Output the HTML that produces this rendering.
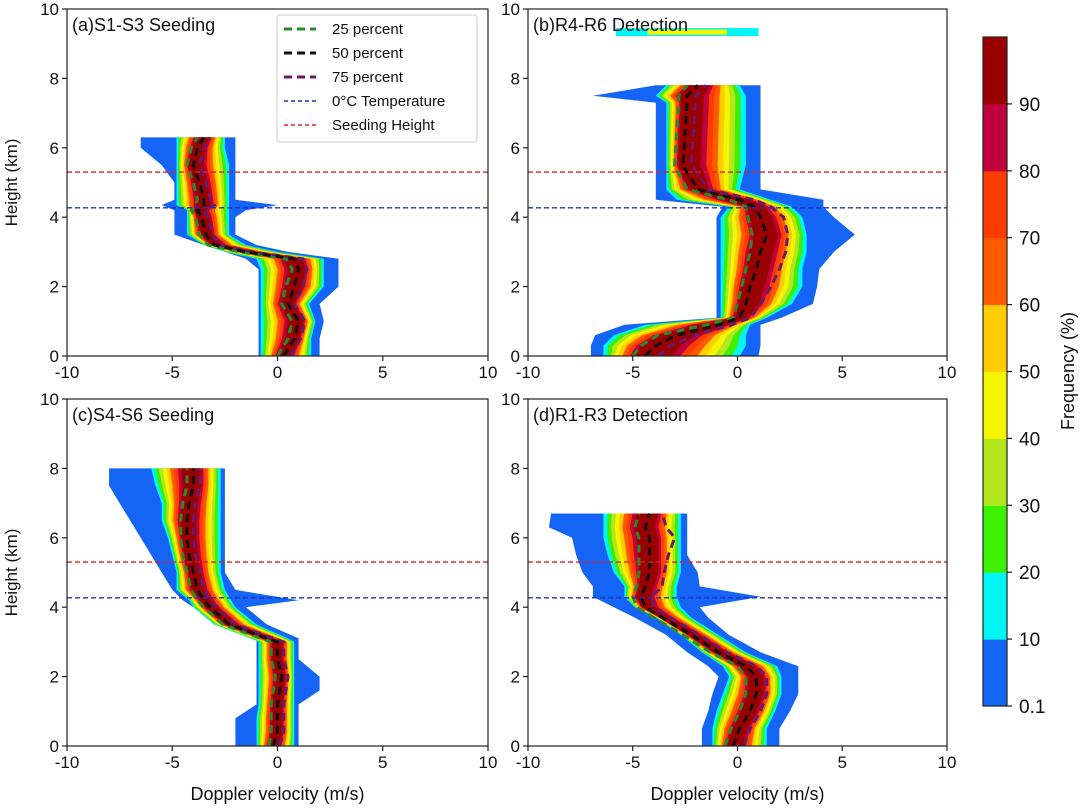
<!DOCTYPE html>
<html><head><meta charset="utf-8">
<style>
html,body{margin:0;padding:0;background:#fff;}
svg text{font-family:"Liberation Sans","DejaVu Sans",sans-serif;fill:#111;}
</style></head>
<body>
<svg id="fig" width="1080" height="805" viewBox="0 0 1080 805" xmlns="http://www.w3.org/2000/svg">
<g id="plots"></g>
<g id="frames"></g>
</svg>
<script>
// ---------- shared data ----------
const levelColors = ["#1464f5","#00f5f5","#3cf000","#b4e61e","#f5f500","#ffcc00","#ff5a00","#ff3c00","#c0003c","#9b0000"];
const cbTicks = ["0.1","10","20","30","40","50","60","70","80","90"];
const xTicks = [-10,-5,0,5,10];
const yTicks = [0,2,4,6,8,10];
const zeroTempHeight = 4.27;
const seedingHeight = 5.3;

// ---------- panel (a) ----------
const aH   = [0,0.5,1.0,1.5,2.0,2.5,2.8,3.0,3.2,3.5,4.0,4.2,4.35,4.5,5.0,5.5,6.0,6.3];
const aBL  = [-0.9,-0.9,-0.9,-0.9,-0.9,-0.9,-1.5,-2.5,-3.5,-4.9,-4.9,-4.9,-5.5,-4.9,-4.9,-5.5,-6.5,-6.5];
const aBR  = [2.0,2.0,2.2,2.0,2.9,2.9,2.9,0.5,-1.0,-2.0,-2.0,-1.5,0,-2.0,-2.0,-2.0,-2.0,-2.0];
const aCL  = [-0.8,-0.8,-0.8,-0.8,-0.8,-0.8,-1.0,-2.5,-3.5,-4.3,-4.3,-4.3,-4.8,-4.8,-4.8,-4.8,-4.8,-4.8];
const aCR  = [1.6,1.6,1.8,1.5,2.2,2.2,2.2,0,-1.5,-2.3,-2.3,-2.3,-2.3,-2.3,-2.3,-2.3,-2.5,-2.5];
const aP50 = [0.3,0.8,1.0,0.5,0.8,1.0,0.8,-1.5,-3.0,-3.4,-3.6,-3.8,-3.5,-3.5,-3.7,-4.0,-3.8,-3.5];
const aP25 = [0.0,0.5,0.7,0.2,0.4,0.7,0.4,-1.8,-3.3,-3.7,-3.9,-4.1,-3.9,-3.8,-4.0,-4.3,-4.1,-3.8];
const aP75 = [0.6,1.1,1.3,0.8,1.2,1.4,1.2,-1.2,-2.7,-3.1,-3.3,-3.5,-3.0,-3.2,-3.4,-3.7,-3.5,-3.2];

// ---------- panel (b) ----------
const bH   = [0,0.3,0.6,0.9,1.1,1.5,2.0,2.5,3.0,3.5,4.0,4.3,4.5,4.8,5.5,6.5,7.3,7.5,7.8];
const bBL  = [-7,-7,-6.8,-5.4,-1.0,-1.0,-1.0,-1.0,-1.0,-1.0,-1.0,-0.7,-3.9,-3.9,-3.9,-3.9,-3.9,-6.9,-3.9];
const bBR  = [1.0,1.1,1.1,1.1,2.1,3.6,3.8,3.9,4.6,5.6,4.6,4.1,4.1,1.1,1.1,1.1,1.1,1.1,1.1];
const bCL  = [-6.4,-6.4,-5.9,-4.4,-0.8,-0.8,-0.8,-0.8,-0.8,-0.8,-0.8,-0.4,-2.9,-3.4,-3.4,-3.4,-3.4,-3.9,-3.4];
const bCR  = [0.1,0.4,0.4,0.6,1.4,2.6,3.1,3.1,3.3,3.3,3.1,2.6,1.6,0.1,0.4,0.4,0.4,0.4,0.1];
const bP50 = [-4.4,-3.9,-2.9,-0.9,0.1,0.4,0.6,0.9,1.1,1.4,1.1,0.8,0.1,-1.9,-2.6,-2.5,-2.4,-2.4,-1.9];
const bP25 = [-5.0,-4.6,-3.8,-1.5,-0.2,0.0,0.2,0.4,0.6,0.7,0.5,0.4,-0.4,-2.4,-3.0,-2.9,-2.8,-2.8,-2.4];
const bP75 = [-3.8,-3.2,-2.0,-0.3,0.6,1.1,1.6,2.0,2.3,2.4,2.2,1.6,0.8,-1.4,-2.2,-2.1,-2.0,-2.0,-1.5];
const bStreak = [-5.8, 1.0, 9.22, 9.45];

// ---------- panel (c) ----------
const cH   = [0,0.4,0.8,1.2,1.6,2.0,2.5,3.0,3.1,3.5,4.0,4.2,4.5,5.0,5.5,6.0,6.5,7.0,7.5,8.0];
const cBL  = [-2,-2,-2,-1,-1,-1,-1,-1,-1,-3,-4,-4.5,-5,-5.5,-6,-6.5,-7,-7.5,-8,-8];
const cBR  = [1,1,1,1,2,2,1,1,1,-0.5,-1.5,1,-2,-2.5,-2.5,-2.5,-2.5,-2.5,-2.5,-2.5];
const cCL  = [-1,-1,-1,-0.9,-0.9,-0.9,-0.9,-0.9,-1.3,-3,-4,-4.2,-4.8,-4.8,-5,-5.2,-5.5,-5.5,-5.8,-6];
const cCR  = [0.8,0.8,0.8,0.8,0.8,0.8,0.8,0.8,0.5,-1,-2,-2.2,-2.5,-2.7,-2.7,-2.7,-2.7,-2.7,-2.7,-2.7];
const cP50 = [-0.2,0,0,0,0.1,0.2,0,0,-0.5,-2.3,-3.2,-3.5,-3.8,-4,-4.2,-4.3,-4.3,-4.2,-4,-4];
const cP25 = [-0.4,-0.3,-0.3,-0.3,-0.2,-0.1,-0.3,-0.3,-0.8,-2.6,-3.5,-3.8,-4.1,-4.3,-4.5,-4.6,-4.6,-4.5,-4.3,-4.3];
const cP75 = [0.1,0.3,0.3,0.3,0.4,0.5,0.3,0.3,-0.2,-2.0,-2.9,-3.2,-3.5,-3.7,-3.9,-4.0,-4.0,-3.9,-3.7,-3.7];

// ---------- panel (d) ----------
const dH   = [0,0.5,1.0,1.5,2.0,2.3,2.7,3.2,3.7,4.0,4.3,4.6,5.0,5.5,6.0,6.3,6.7];
const dBL  = [-1.7,-1.7,-1.4,-1.2,-0.9,-1.4,-2.4,-3.4,-4.9,-5.9,-6.9,-6.9,-7.4,-7.7,-7.9,-9.0,-8.9];
const dBR  = [2.0,2.0,2.5,2.9,2.9,2.9,1.1,-0.4,-1.4,-1.8,1.1,-1.8,-1.9,-2.4,-2.4,-2.4,-2.4];
const dCL  = [-1.2,-1.2,-1.0,-0.7,-0.4,-0.7,-1.7,-2.7,-3.9,-4.9,-5.4,-5.4,-5.9,-6.2,-6.4,-6.4,-6.4];
const dCR  = [1.4,1.4,1.8,2.1,2.1,1.9,0.4,-0.9,-2.2,-2.7,-2.9,-2.9,-2.7,-2.7,-2.7,-2.7,-2.7];
const dP50 = [-0.2,0.1,0.6,0.9,0.9,0.4,-0.9,-2.2,-3.6,-4.4,-4.6,-4.4,-4.2,-4.2,-4.2,-4.4,-4.2];
const dP25 = [-0.6,-0.3,0.1,0.4,0.4,0.0,-1.3,-2.6,-4.0,-4.8,-5.0,-4.8,-4.7,-4.7,-4.7,-4.9,-4.7];
const dP75 = [0.3,0.6,1.1,1.4,1.4,0.9,-0.5,-1.8,-3.2,-4.0,-4.1,-3.6,-3.5,-3.3,-3.0,-3.4,-3.6];

const NS="http://www.w3.org/2000/svg";
const plots=document.getElementById('plots');
const frames=document.getElementById('frames');
function mk(tag,attrs,parent){const e=document.createElementNS(NS,tag);for(const k in attrs)e.setAttribute(k,attrs[k]);(parent||plots).appendChild(e);return e;}

const panels=[
 {id:'a',title:'(a)S1-S3 Seeding',x0:67,x1:488,y0:356,y1:9,H:aH,BL:aBL,BR:aBR,CL:aCL,CR:aCR,P25:aP25,P50:aP50,P75:aP75,ylab:true,xlab:false},
 {id:'b',title:'(b)R4-R6 Detection',x0:528,x1:947,y0:356,y1:9,H:bH,BL:bBL,BR:bBR,CL:bCL,CR:bCR,P25:bP25,P50:bP50,P75:bP75,ylab:false,xlab:false},
 {id:'c',title:'(c)S4-S6 Seeding',x0:67,x1:488,y0:746,y1:399,H:cH,BL:cBL,BR:cBR,CL:cCL,CR:cCR,P25:cP25,P50:cP50,P75:cP75,ylab:true,xlab:true},
 {id:'d',title:'(d)R1-R3 Detection',x0:528,x1:947,y0:746,y1:399,H:dH,BL:dBL,BR:dBR,CL:dCL,CR:dCR,P25:dP25,P50:dP50,P75:dP75,ylab:false,xlab:true}
];

panels.forEach(p=>{
  const sx=v=>p.x0+(v+10)/20*(p.x1-p.x0);
  const sy=h=>p.y0-h/10*(p.y0-p.y1);
  const g=mk('g',{});
  
  
  const clipId='clip'+p.id;
  const cp=mk('clipPath',{id:clipId},g);
  mk('rect',{x:p.x0,y:p.y1,width:p.x1-p.x0,height:p.y0-p.y1},cp);
  const dg=mk('g',{'clip-path':'url(#'+clipId+')'},g);
  for(let k=0;k<levelColors.length;k++){
    const f=1-(k-1)*0.09;
    const L=[],R=[];
    for(let i=0;i<p.H.length;i++){
      let l,r;
      if(k===0){l=p.BL[i];r=p.BR[i];}
      else{l=p.P50[i]-(p.P50[i]-p.CL[i])*f;r=p.P50[i]+(p.CR[i]-p.P50[i])*f;}
      L.push(sx(l).toFixed(1)+','+sy(p.H[i]).toFixed(1));
      R.push(sx(r).toFixed(1)+','+sy(p.H[i]).toFixed(1));
    }
    const poly=mk('polygon',{points:L.concat(R.reverse()).join(' '),fill:levelColors[k]},dg);
    
    
  }
  if(p.id==='b'){
    const s=mk('rect',{x:sx(bStreak[0]),y:sy(bStreak[3]),width:sx(bStreak[1])-sx(bStreak[0]),height:sy(bStreak[2])-sy(bStreak[3]),fill:levelColors[1]},dg);
    
    
    const s2=mk('rect',{x:sx(bStreak[0]+1.5),y:sy(bStreak[3]-0.04),width:sx(bStreak[1]-1.5)-sx(bStreak[0]+1.5),height:sy(bStreak[2]+0.04)-sy(bStreak[3]-0.04),fill:levelColors[4]},dg);
    
    
  }
  [[p.P25,'#2a8a2a','25'],[p.P75,'#6b1a6b','75'],[p.P50,'#111','50']].forEach(([arr,col,nm])=>{
    const pts=arr.map((v,i)=>sx(v).toFixed(1)+','+sy(p.H[i]).toFixed(1)).join(' ');
    const pl=mk('polyline',{points:pts,fill:'none',stroke:col,'stroke-width':3,'stroke-dasharray':'8,5'},dg);
    
    
  });
  const rl=mk('line',{x1:p.x0,x2:p.x1,y1:sy(seedingHeight),y2:sy(seedingHeight),stroke:'#e02020','stroke-width':1.4,'stroke-dasharray':'5,3'},g);
  
  
  const bl=mk('line',{x1:p.x0,x2:p.x1,y1:sy(zeroTempHeight),y2:sy(zeroTempHeight),stroke:'#2030c0','stroke-width':1.4,'stroke-dasharray':'5,3'},g);
  
  
  const fr=mk('rect',{x:p.x0,y:p.y1,width:p.x1-p.x0,height:p.y0-p.y1,fill:'none',stroke:'#222','stroke-width':1.2},g);
  
  
  xTicks.forEach(t=>{
    mk('line',{x1:sx(t),x2:sx(t),y1:p.y0,y2:p.y0+5,stroke:'#222','stroke-width':1.2},g);
    const tx=mk('text',{x:sx(t),y:p.y0+22,'text-anchor':'middle','font-size':17},g);
    tx.textContent=t;
    
    
  });
  yTicks.forEach(t=>{
    mk('line',{x1:p.x0-5,x2:p.x0,y1:sy(t),y2:sy(t),stroke:'#222','stroke-width':1.2},g);
    const ty=mk('text',{x:p.x0-8,y:sy(t)+6,'text-anchor':'end','font-size':17},g);
    ty.textContent=t;
    
    
  });
  const tt=mk('text',{x:p.x0+5,y:p.y1+22,'font-size':18},g);
  tt.textContent=p.title;
  
  
  if(p.ylab){
    const yl=mk('text',{x:0,y:0,'font-size':17,'text-anchor':'middle',transform:'translate(17,'+((p.y0+p.y1)/2)+') rotate(-90)'},g);
    yl.textContent='Height (km)';
    
    
  }
  if(p.xlab){
    const xl=mk('text',{x:(p.x0+p.x1)/2,y:800,'font-size':18,'text-anchor':'middle'},g);
    xl.textContent='Doppler velocity (m/s)';
    
    
  }
});

// legend
const lg=mk('g',{},frames);


mk('rect',{x:277,y:15,width:200,height:127,rx:3,fill:'#fff',stroke:'#ccc','stroke-width':1},lg);
const legItems=[['25 percent','#2a8a2a',3,'8,5'],['50 percent','#111',3,'8,5'],['75 percent','#6b1a6b',3,'8,5'],['0°C Temperature','#2030c0',1.4,'4,3'],['Seeding Height','#e02020',1.4,'4,3']];
legItems.forEach((it,i)=>{
  const y=29+i*24;
  const e=mk('g',{},lg);
  
  
  mk('line',{x1:284,x2:316,y1:y,y2:y,stroke:it[1],'stroke-width':it[2],'stroke-dasharray':it[3]},e);
  const t=mk('text',{x:332,y:y+5,'font-size':15},e);
  t.textContent=it[0];
});

// colorbar
const cb=mk('g',{},frames);


const cbTop=37,cbBot=706,cbX=983,cbW=24;
const step=(cbBot-cbTop)/levelColors.length;
levelColors.forEach((c,i)=>{
  const r=mk('rect',{x:cbX,y:cbBot-(i+1)*step,width:cbW,height:step+0.5,fill:c},cb);
  
  
});
mk('rect',{x:cbX,y:cbTop,width:cbW,height:cbBot-cbTop,fill:'none',stroke:'#222','stroke-width':1.2},cb);
cbTicks.forEach((t,i)=>{
  const y=cbBot-i*step;
  mk('line',{x1:cbX+cbW,x2:cbX+cbW+5,y1:y,y2:y,stroke:'#222','stroke-width':1.2},cb);
  const tx=mk('text',{x:cbX+cbW+12,y:y+7,'font-size':19},cb);
  tx.textContent=t;
});
const cbl=mk('text',{x:0,y:0,'font-size':18,'text-anchor':'middle',transform:'translate(1074,371) rotate(-90)'},cb);
cbl.textContent='Frequency (%)';


</script>
</body></html>
